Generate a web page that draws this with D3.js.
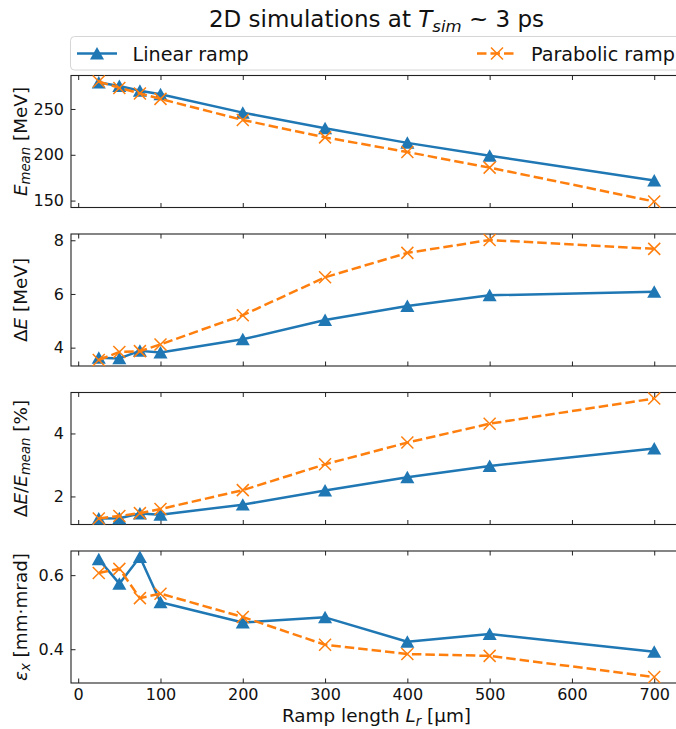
<!DOCTYPE html>
<html>
<head>
<meta charset="utf-8">
<script src="https://cdn.jsdelivr.net/npm/d3@7"></script>
<style>
  html, body { margin: 0; padding: 0; background: #fff; }
  svg { display: block; font-family: "DejaVu Sans", sans-serif; }
</style>
</head>
<body>
<div id="chart"></div>
<script>
// Ramp lengths (µm) shared by every panel
const rampLengths = [25, 50, 75, 100, 200, 300, 400, 500, 700];

// Mean energy [MeV]
const eMeanLinear    = [279, 275, 270, 266, 246, 229, 213, 199, 172];
const eMeanParabolic = [280, 273, 267, 261, 238, 219, 203, 186, 149];

// Energy spread [MeV]
const dELinear    = [3.62, 3.60, 3.88, 3.82, 4.31, 5.03, 5.55, 5.95, 6.08];
const dEParabolic = [3.54, 3.84, 3.87, 4.12, 5.21, 6.62, 7.53, 8.01, 7.68];

// Relative energy spread [%]
const relSpreadLinear    = [1.30, 1.31, 1.46, 1.42, 1.74, 2.19, 2.61, 2.97, 3.52];
const relSpreadParabolic = [1.30, 1.38, 1.47, 1.60, 2.20, 3.02, 3.71, 4.31, 5.11];

// Transverse emittance [mm·mrad]
const emitLinear    = [0.643, 0.577, 0.649, 0.527, 0.472, 0.486, 0.420, 0.441, 0.393];
const emitParabolic = [0.606, 0.617, 0.538, 0.550, 0.487, 0.412, 0.387, 0.382, 0.325];

// Tick values
const xTicks = [0, 100, 200, 300, 400, 500, 600, 700];
const yTicksEMean = [150, 200, 250];
const yTicksDE = [4, 6, 8];
const yTicksRel = [2, 4];
const yTicksEmit = [0.4, 0.6];

const seriesNames = ["Linear ramp", "Parabolic ramp"];

const W = 676, H = 729;
const BLUE = "#1f77b4", ORANGE = "#ff7f0e";
const axLeft = 71, axRight = 682;
const panelTop0 = 75.5, panelStep = 158.5, panelH = 132;
const TICK_FS = 16, LABEL_FS = 18.4, LEGEND_FS = 19.2, TITLE_FS = 23;

const svg = d3.select("#chart").append("svg")
  .attr("width", W).attr("height", H);

const x = d3.scaleLinear()
  .domain([25 - 0.05 * 675, 700 + 0.05 * 675])
  .range([axLeft, axRight]);

const panels = [
  { lin: eMeanLinear, par: eMeanParabolic, ticks: yTicksEMean, fmt: d3.format("d"), label: "emean" },
  { lin: dELinear, par: dEParabolic, ticks: yTicksDE, fmt: d3.format("d"), label: "de" },
  { lin: relSpreadLinear, par: relSpreadParabolic, ticks: yTicksRel, fmt: d3.format("d"), label: "rel" },
  { lin: emitLinear, par: emitParabolic, ticks: yTicksEmit, fmt: d3.format(".1f"), label: "emit" }
];

function triangle(s) {
  return `M0,${-s} L${s * 1.08},${s * 0.92} L${-s * 1.08},${s * 0.92} Z`;
}
function cross(s) {
  return `M${-s},${-s} L${s},${s} M${-s},${s} L${s},${-s}`;
}

// subscript helper: italic base letters followed by a lowered smaller run
function sub(textSel, base, subText, fs, shift, italicBase = true) {
  const b = textSel.append("tspan").text(base);
  if (italicBase) b.attr("font-style", "italic");
  textSel.append("tspan").attr("font-style", "italic").attr("font-size", fs * 0.72)
    .attr("dy", shift).text(subText);
  return -shift;
}

panels.forEach((p, i) => {
  const top = panelTop0 + i * panelStep;
  const bottom = top + panelH;
  const all = p.lin.concat(p.par);
  const [lo, hi] = d3.extent(all);
  const pad = (hi - lo) * 0.05;
  const y = d3.scaleLinear().domain([lo - pad, hi + pad]).range([bottom, top]);

  const g = svg.append("g");

  // axes with inward ticks
  const left = g.append("g").attr("transform", `translate(${axLeft},0)`)
    .call(d3.axisLeft(y).tickValues(p.ticks).tickFormat(p.fmt)
      .tickSizeInner(-4.5).tickSizeOuter(0).tickPadding(7));
  const bot = g.append("g").attr("transform", `translate(0,${bottom})`)
    .call(d3.axisBottom(x).tickValues(xTicks).tickFormat(i === 3 ? d3.format("d") : () => "")
      .tickSizeInner(-4.5).tickSizeOuter(0).tickPadding(6));
  const topAx = g.append("g").attr("transform", `translate(0,${top})`)
    .call(d3.axisTop(x).tickValues(xTicks).tickFormat(() => "")
      .tickSizeInner(-4.5).tickSizeOuter(0));
  [left, bot, topAx].forEach(a => {
    a.select(".domain").remove();
    a.selectAll(".tick line").attr("stroke", "#222").attr("stroke-width", 1);
    a.selectAll(".tick text").attr("font-size", TICK_FS).attr("fill", "#111")
      .attr("font-family", "DejaVu Sans, sans-serif");
  });

  // frame
  g.append("rect").attr("x", axLeft).attr("y", top)
    .attr("width", axRight - axLeft).attr("height", panelH)
    .attr("fill", "none").attr("stroke", "#222").attr("stroke-width", 1.1);

  const line = d3.line().x((d, k) => x(rampLengths[k])).y(d => y(d));

  // linear ramp
  g.append("path").datum(p.lin).attr("d", line)
    .attr("fill", "none").attr("stroke", BLUE).attr("stroke-width", 2.5)
    .attr("stroke-linejoin", "round");
  g.selectAll(".tri").data(p.lin).enter().append("path")
    .attr("transform", (d, k) => `translate(${x(rampLengths[k])},${y(d)})`)
    .attr("d", triangle(6.5)).attr("fill", BLUE);

  // parabolic ramp
  g.append("path").datum(p.par).attr("d", line)
    .attr("fill", "none").attr("stroke", ORANGE).attr("stroke-width", 2.5)
    .attr("stroke-dasharray", "9.5,4");
  g.selectAll(".crs").data(p.par).enter().append("path")
    .attr("transform", (d, k) => `translate(${x(rampLengths[k])},${y(d)})`)
    .attr("d", cross(6)).attr("fill", "none").attr("stroke", ORANGE).attr("stroke-width", 1.5);

  // y label (rotated)
  const cy = (top + bottom) / 2;
  const t = svg.append("text")
    .attr("transform", `translate(26.5,${cy}) rotate(-90)`)
    .attr("text-anchor", "middle").attr("font-size", LABEL_FS).attr("fill", "#111");
  if (p.label === "emean") {
    const back = sub(t, "E", "mean", LABEL_FS, 3.5);
    t.append("tspan").attr("dy", back).text(" [MeV]");
  } else if (p.label === "de") {
    t.append("tspan").text("Δ");
    t.append("tspan").attr("font-style", "italic").text("E");
    t.append("tspan").text(" [MeV]");
  } else if (p.label === "rel") {
    t.append("tspan").text("Δ");
    t.append("tspan").attr("font-style", "italic").text("E");
    t.append("tspan").text("/");
    const back = sub(t, "E", "mean", LABEL_FS, 3.5);
    t.append("tspan").attr("dy", back).text(" [%]");
  } else {
    const back = sub(t, "ε", "x", LABEL_FS, 3.5);
    t.append("tspan").attr("dy", back).text(" [mm·mrad]");
  }
});

// x-axis label
const xl = svg.append("text").attr("x", (axLeft + axRight) / 2).attr("y", 722)
  .attr("text-anchor", "middle").attr("font-size", LABEL_FS).attr("fill", "#111");
xl.append("tspan").text("Ramp length ");
const xBack = sub(xl, "L", "r", LABEL_FS, 4);
xl.append("tspan").attr("dy", xBack).text(" [µm]");

// title
const ttl = svg.append("text").attr("x", (axLeft + axRight) / 2).attr("y", 27)
  .attr("text-anchor", "middle").attr("font-size", TITLE_FS).attr("fill", "#111");
ttl.append("tspan").text("2D simulations at ");
const tBack = sub(ttl, "T", "sim", TITLE_FS, 5);
ttl.append("tspan").attr("dy", tBack).text(" ~ 3 ps");

// legend
const lg = svg.append("g");
lg.append("rect").attr("x", 70.5).attr("y", 36.5).attr("width", 612).attr("height", 33.5)
  .attr("rx", 4).attr("fill", "#fff").attr("fill-opacity", 0.8)
  .attr("stroke", "#d6d6d6").attr("stroke-width", 1);
const legendItems = [
  { name: seriesNames[0], color: BLUE, x0: 77, dash: null, marker: "tri", tx: 132.5 },
  { name: seriesNames[1], color: ORANGE, x0: 477, dash: "9.5,4", marker: "crs", tx: 531 }
];
legendItems.forEach(it => {
  const ly = 53.5;
  const l = lg.append("line").attr("x1", it.x0).attr("x2", it.x0 + 40)
    .attr("y1", ly).attr("y2", ly).attr("stroke", it.color).attr("stroke-width", 2.5);
  if (it.dash) l.attr("stroke-dasharray", it.dash);
  if (it.marker === "tri") {
    lg.append("path").attr("transform", `translate(${it.x0 + 20},${ly})`)
      .attr("d", triangle(6.5)).attr("fill", it.color);
  } else {
    lg.append("path").attr("transform", `translate(${it.x0 + 20},${ly})`)
      .attr("d", cross(6)).attr("fill", "none").attr("stroke", it.color).attr("stroke-width", 1.5);
  }
  lg.append("text").attr("x", it.tx).attr("y", 60.5).attr("font-size", LEGEND_FS).attr("fill", "#111")
    .text(it.name);
});
</script>
</body>
</html>
